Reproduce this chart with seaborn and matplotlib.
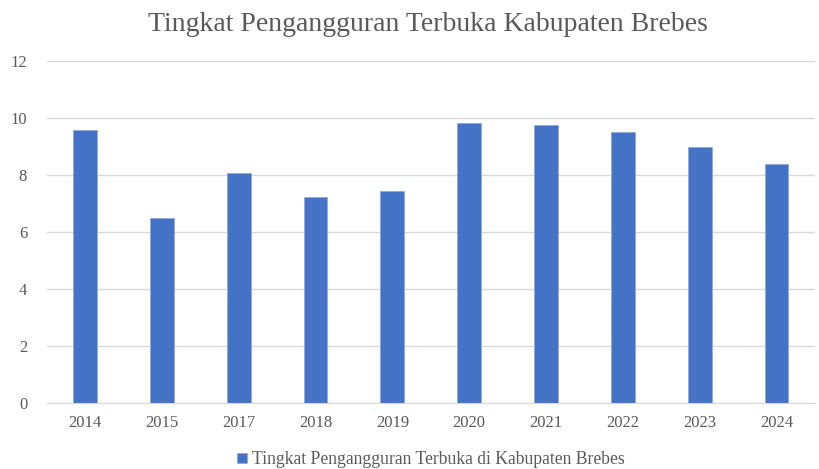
import pandas as pd
import matplotlib.pyplot as plt
import seaborn as sns

# Data
tahun = ['2014', '2015', '2017', '2018', '2019', '2020', '2021', '2022', '2023', '2024']
tpt = [9.55, 6.48, 8.04, 7.22, 7.43, 9.81, 9.75, 9.50, 8.97, 8.36]

df = pd.DataFrame({'Tahun': tahun, 'TPT': tpt})

sns.set_style('white')
plt.rcParams['font.family'] = ['Liberation Serif', 'DejaVu Serif']

fig = plt.figure(figsize=(8.19, 4.69), dpi=100)
ax = fig.add_axes([0.057, 0.141, 0.938, 0.730])

sns.barplot(data=df, x='Tahun', y='TPT', color='#4472C4', width=0.31,
            saturation=1, edgecolor='#8FAADC', linewidth=0.6, ax=ax,
            label='Tingkat Pengangguran Terbuka di Kabupaten Brebes')

ax.set_ylim(0, 12)
ax.set_yticks(range(0, 13, 2))
ax.yaxis.grid(True, color='#D9D9D9', linewidth=1)
ax.set_axisbelow(True)
for s in ['top', 'right', 'left']:
    ax.spines[s].set_visible(False)
ax.spines['bottom'].set_color('#D9D9D9')
ax.tick_params(axis='both', length=0, labelsize=12, colors='#595959')
ax.tick_params(axis='x', pad=9)
ax.tick_params(axis='y', pad=14)
ax.set_xlabel('')
ax.set_ylabel('')

fig.suptitle('Tingkat Pengangguran Terbuka Kabupaten Brebes', x=0.522, y=0.975,
             fontsize=20, color='#595959')

if ax.get_legend():
    ax.get_legend().remove()
handles, labels = ax.get_legend_handles_labels()
fig.legend(handles, labels, loc='lower center', bbox_to_anchor=(0.526, -0.032),
           frameon=False, fontsize=12.7, labelcolor='#595959',
           handlelength=0.55, handleheight=0.55, handletextpad=0.3)

plt.savefig('out.png', dpi=100)
